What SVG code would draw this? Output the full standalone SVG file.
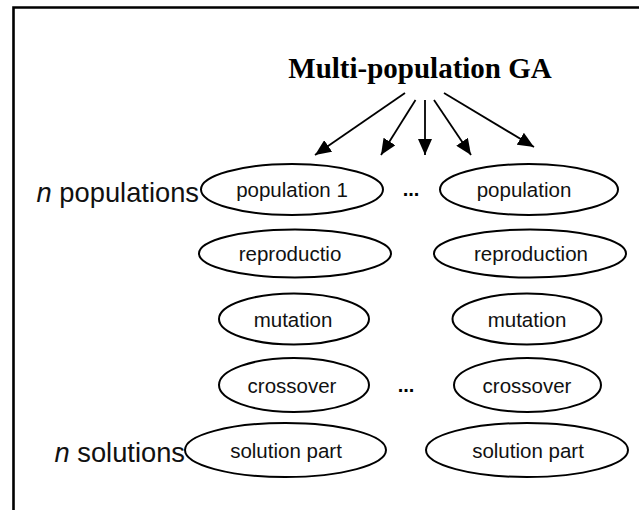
<svg xmlns="http://www.w3.org/2000/svg" width="639" height="510" viewBox="0 0 639 510">
<style>
.node ellipse{fill:#fff;stroke:#000;stroke-width:2}
.lbl{font-family:"Liberation Sans",Arial,sans-serif;font-size:20.5px;fill:#111;text-anchor:middle}
.side{font-family:"Liberation Sans",Arial,sans-serif;font-size:27.3px;fill:#111;text-anchor:end}
.dots{font-family:"Liberation Sans",Arial,sans-serif;font-size:20px;font-weight:bold;fill:#000;text-anchor:middle}
.title{font-family:"Liberation Serif","Times New Roman",serif;font-size:29px;font-weight:bold;fill:#000;text-anchor:middle}
.conn line{stroke:#000;stroke-width:1.8}
</style>
<defs>
<marker id="ah" markerWidth="16" markerHeight="14" refX="16" refY="7" orient="auto" markerUnits="userSpaceOnUse" viewBox="0 0 16 14">
<path d="M0,0 L16,7 L0,14 z" fill="#000"/>
</marker>
</defs>
<rect width="639" height="510" fill="#fff"/>
<path d="M13.5,510 V7.5 H639" fill="none" stroke="#000" stroke-width="2.6"/>
<g id="title"><text class="title" x="420" y="78">Multi-population GA</text></g>
<g id="connectors" class="conn">
<line x1="405" y1="93" x2="315" y2="155" marker-end="url(#ah)"/>
<line x1="415.5" y1="100" x2="381" y2="155" marker-end="url(#ah)"/>
<line x1="425" y1="100" x2="425" y2="155" marker-end="url(#ah)"/>
<line x1="434" y1="100" x2="471" y2="155" marker-end="url(#ah)"/>
<line x1="444" y1="93" x2="534" y2="147" marker-end="url(#ah)"/>
</g>
<g id="label-populations"><text class="side" x="199" y="202"><tspan font-style="italic">n</tspan> populations</text></g>
<g id="label-solutions"><text class="side" x="185" y="462"><tspan font-style="italic">n</tspan> solutions</text></g>
<g id="pop1" class="node"><ellipse cx="292" cy="189.5" rx="91" ry="25.5"/><text class="lbl" x="292" y="197">population 1</text></g>
<g id="popn" class="node"><ellipse cx="529" cy="189.5" rx="89" ry="25.5"/><text class="lbl" x="524" y="197">population</text></g>
<g id="repro1" class="node"><ellipse cx="295" cy="253.5" rx="96" ry="24"/><text class="lbl" x="290" y="261">reproductio</text></g>
<g id="repron" class="node"><ellipse cx="530" cy="253.5" rx="96" ry="24"/><text class="lbl" x="531" y="261">reproduction</text></g>
<g id="mut1" class="node"><ellipse cx="294" cy="319" rx="75" ry="25.5"/><text class="lbl" x="293" y="326.5">mutation</text></g>
<g id="mutn" class="node"><ellipse cx="527" cy="319" rx="74.5" ry="25.5"/><text class="lbl" x="527" y="326.5">mutation</text></g>
<g id="cross1" class="node"><ellipse cx="294" cy="385" rx="75" ry="27"/><text class="lbl" x="292" y="392.5">crossover</text></g>
<g id="crossn" class="node"><ellipse cx="527.5" cy="385" rx="73.5" ry="27"/><text class="lbl" x="527" y="392.5">crossover</text></g>
<g id="sol1" class="node"><ellipse cx="285.5" cy="450" rx="100.5" ry="27"/><text class="lbl" x="286" y="457.5">solution part</text></g>
<g id="soln" class="node"><ellipse cx="527" cy="450" rx="101" ry="27"/><text class="lbl" x="528" y="457.5">solution part</text></g>
<g id="dots1"><text class="dots" x="411" y="196">...</text></g>
<g id="dots2"><text class="dots" x="406" y="392">...</text></g>
</svg>
